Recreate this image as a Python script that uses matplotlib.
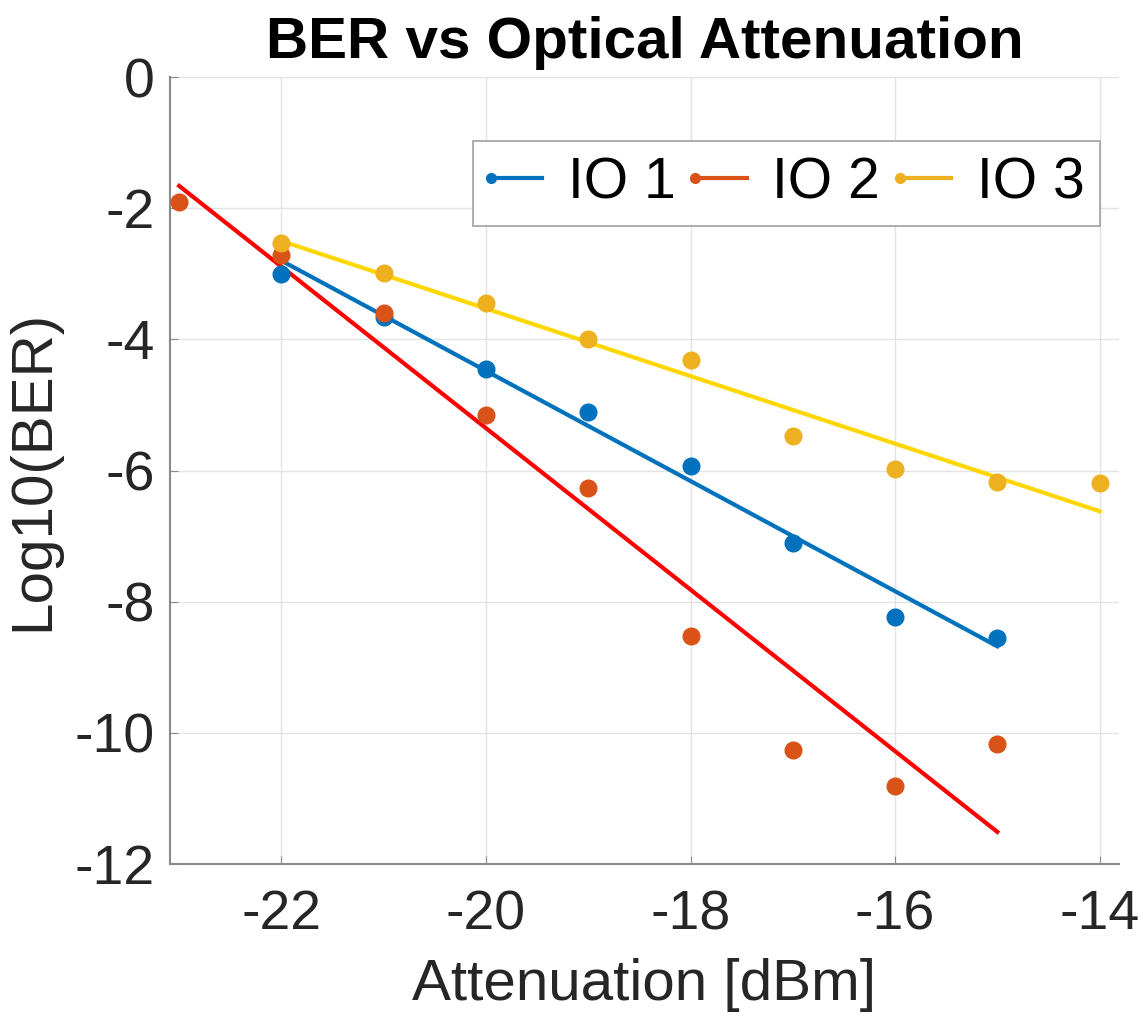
import numpy as np
import matplotlib
matplotlib.use('Agg')
import matplotlib.pyplot as plt
from matplotlib.lines import Line2D
from matplotlib.legend_handler import HandlerLine2D

plt.rcParams['font.family'] = ['Liberation Sans', 'DejaVu Sans']
plt.rcParams['axes.unicode_minus'] = False

# measured points
att_io1 = [-22, -21, -20, -19, -18, -17, -16, -15]
ber_io1 = [-3.00, -3.66, -4.45, -5.11, -5.93, -7.10, -8.23, -8.55]

att_io2 = [-23, -22, -21, -20, -19, -18, -17, -16, -15]
ber_io2 = [-1.90, -2.71, -3.60, -5.15, -6.27, -8.52, -10.26, -10.81, -10.17]

att_io3 = [-22, -21, -20, -19, -18, -17, -16, -15, -14]
ber_io3 = [-2.53, -2.99, -3.44, -3.99, -4.31, -5.47, -5.98, -6.17, -6.19]

# linear fit lines (end points)
fit_io1_x = [-22, -15]
fit_io1_y = [-2.80, -8.68]
fit_io2_x = [-23, -15]
fit_io2_y = [-1.66, -11.51]
fit_io3_x = [-22, -14]
fit_io3_y = [-2.50, -6.62]

labels = ['IO 1', 'IO 2', 'IO 3']
colors = ['#0072BD', '#D95319', '#EDB120']
fit_colors = ['#0072BD', '#FF0000', '#FFD700']


# legend entry: line with the marker only at its left end
class LeftMarkerHandler(HandlerLine2D):
    def create_artists(self, *args, **kwargs):
        arts = super().create_artists(*args, **kwargs)
        for a in arts:
            a.set_markevery([0])
        return arts


fig = plt.figure(figsize=(11.43, 10.23), dpi=100)
ax = fig.add_axes([0.1487, 0.1554, 0.979 - 0.1487, 0.9247 - 0.1554])

ax.plot(fit_io1_x, fit_io1_y, color=fit_colors[0], lw=3, zorder=3)
ax.plot(fit_io2_x, fit_io2_y, color=fit_colors[1], lw=3, zorder=3)
ax.plot(fit_io3_x, fit_io3_y, color=fit_colors[2], lw=3, zorder=3)

ax.plot(att_io1, ber_io1, 'o', color=colors[0], ms=12, mec=colors[0], zorder=4)
ax.plot(att_io2, ber_io2, 'o', color=colors[1], ms=12, mec=colors[1], zorder=4)
ax.plot(att_io3, ber_io3, 'o', color=colors[2], ms=12, mec=colors[2], zorder=4)

ax.set_xlim(-23.09, -13.81)
ax.set_ylim(-12, 0)
ax.set_xticks([-22, -20, -18, -16, -14])
ax.set_yticks([0, -2, -4, -6, -8, -10, -12])
ax.grid(True, color='#e3e3e3', lw=1)
ax.set_axisbelow(True)

for s in ['top', 'right']:
    ax.spines[s].set_visible(False)
for s in ['left', 'bottom']:
    ax.spines[s].set_color('#8a8a8a')
    ax.spines[s].set_linewidth(1.5)
ax.tick_params(direction='in', length=6, colors='#8a8a8a', labelcolor='#262626',
               labelsize=40)
ax.tick_params(axis='x', pad=18)
ax.tick_params(axis='y', pad=11)

ax.set_xlabel('Attenuation [dBm]', fontsize=42, color='#262626', labelpad=12)
ax.set_ylabel('Log10(BER)', fontsize=42, color='#262626', labelpad=10)
ax.set_title('BER vs Optical Attenuation', fontsize=42, fontweight='bold', pad=14)

handles = [Line2D([0, 1], [0, 0], color=c, lw=3, marker='o', ms=7) for c in colors]
leg = ax.legend(handles, labels, ncol=3, loc='upper right',
                bbox_to_anchor=(0.98, 0.919), fontsize=41, numpoints=2,
                handler_map={Line2D: LeftMarkerHandler(marker_pad=0.05)},
                handlelength=1.0, handletextpad=0.4, columnspacing=0.3,
                borderpad=0.27, fancybox=False, framealpha=1, borderaxespad=0)
leg.get_frame().set_edgecolor('#a0a0a0')
leg.get_frame().set_linewidth(1.2)

fig.savefig('out.png', dpi=100)
